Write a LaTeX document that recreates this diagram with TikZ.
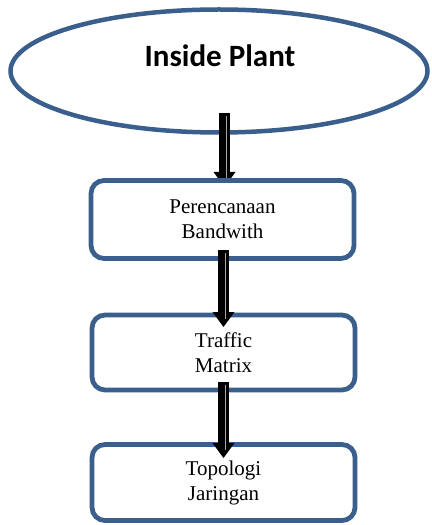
\documentclass[tikz,border=0pt]{standalone}
\usepackage{fontspec}
\setmainfont{Liberation Serif}
\newfontfamily\calibri{Carlito}
\usetikzlibrary{shapes.geometric,arrows.meta,calc}
\definecolor{bordblue}{RGB}{58,95,141}
\tikzset{
  x=1bp, y=-1bp,
  ovalnode/.style={ellipse, draw=bordblue, line width=4.5bp, fill=white, inner sep=0pt, minimum width=417bp, minimum height=123bp},
  boxnode/.style={rectangle, rounded corners=13bp, draw=bordblue, line width=4.8bp, fill=white, minimum width=263bp, align=center, inner sep=0pt, font=\fontsize{21bp}{25bp}\selectfont},
  blockarrow/.style={line width=11bp, -{Triangle[width=22bp,length=15bp,line width=0pt]}},
  glint/.style={white!65!black, line width=1bp},
}
\begin{document}
\begin{tikzpicture}
\useasboundingbox (0,0) rectangle (431,525);
\node[ovalnode] (plant) at (219,71) {};
\node[font=\calibri\bfseries\fontsize{31bp}{36bp}\selectfont, inner sep=0pt] (plantlabel) at (220,56) {Inside Plant};
% arrow 1
\coordinate (a1s) at (224.5,113);
\coordinate (a1e) at (224.5,187);
\draw[blockarrow] (a1s) -- (a1e);
\draw[glint] ($(a1s)+(2,3)$) -- ($(a1e)+(2,-9)$);
\node[boxnode, minimum height=78bp] (bw) at (222.5,219.5) {Perencanaan\\Bandwith};
\node[boxnode, minimum height=75bp] (tm) at (223.5,352.5) {Traffic\\Matrix};
\node[boxnode, minimum height=76bp] (tj) at (223.5,482.5) {Topologi\\Jaringan};
% arrow 2
\coordinate (a2s) at (223.5,250);
\coordinate (a2e) at (223.5,327);
\draw[blockarrow] (a2s) -- (a2e);
\draw[glint] ($(a2s)+(1.8,3)$) -- ($(a2e)+(1.8,-8)$);
% arrow 3
\coordinate (a3s) at (223.5,382);
\coordinate (a3e) at (223.5,458);
\draw[blockarrow] (a3s) -- (a3e);
\draw[glint] ($(a3s)+(1.8,3)$) -- ($(a3e)+(1.8,-8)$);
\end{tikzpicture}
\end{document}
